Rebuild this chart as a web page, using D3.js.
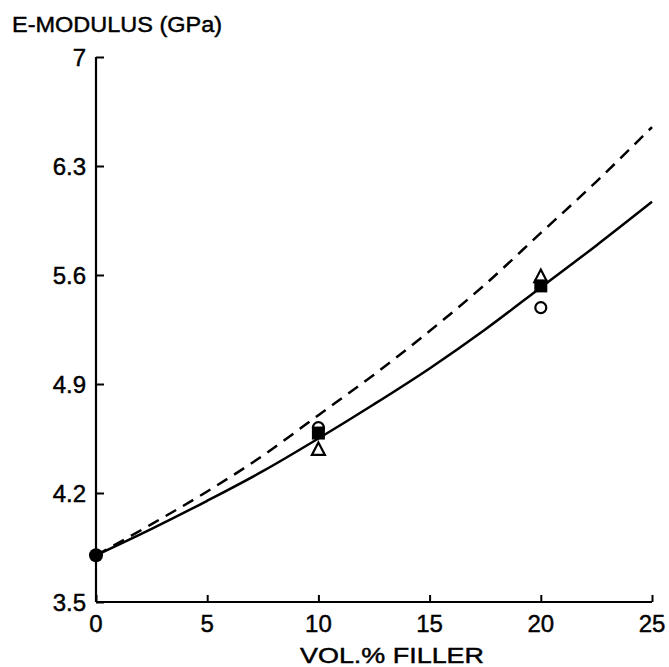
<!DOCTYPE html>
<html><head><meta charset="utf-8">
<script src="https://cdn.jsdelivr.net/npm/d3@7/dist/d3.min.js"></script>
<style>body{margin:0;background:#fff} text{stroke:#000;stroke-width:0.45px}</style>
</head><body>
<svg id="c" width="669" height="667"></svg>
<script>
const xTicks = [0, 5, 10, 15, 20, 25];
const yTicks = [3.5, 4.2, 4.9, 5.6, 6.3, 7];
const curveX = [0, 2.5, 5, 7.5, 10, 12.5, 15, 17.5, 20, 22.5, 25];
const solidY = [3.80, 3.97, 4.15, 4.34, 4.55, 4.77, 5.00, 5.25, 5.52, 5.79, 6.07];
const dashedY = [3.80, 4.00, 4.21, 4.44, 4.70, 4.96, 5.24, 5.54, 5.87, 6.20, 6.55];
const circleX = [10, 20], circleY = [4.62, 5.39];
const squareX = [10, 20], squareY = [4.585, 5.53];
const triangleX = [10, 20], triangleY = [4.48, 5.59];
const zeroX = [0], zeroY = [3.80];

const svg = d3.select("#c");
const font = "'Liberation Sans', Arial, sans-serif";
const x = d3.scaleLinear().domain([0, 25]).range([96, 652]);
const y = d3.scaleLinear().domain([3.5, 7]).range([602, 57]);

// axes
const yAxis = d3.axisRight(y).tickValues(yTicks).tickSize(8).tickFormat("");
const gy = svg.append("g").attr("transform", "translate(96,0)").call(yAxis);
const xAxis = d3.axisTop(x).tickValues(xTicks).tickSize(7).tickFormat("");
const gx = svg.append("g").attr("transform", "translate(0,602)").call(xAxis);
[gy, gx].forEach(g => {
  g.select(".domain").attr("stroke", "#000").attr("stroke-width", 2.2);
  g.selectAll(".tick line").attr("stroke", "#000").attr("stroke-width", 2);
});
gy.select(".domain").attr("d", `M0,${y(7)}V${y(3.5)}`);
gx.select(".domain").attr("d", `M${x(0)},0H${x(25)}`);

// tick labels
svg.append("g").selectAll("text").data(yTicks).join("text")
  .attr("x", 86).attr("y", d => y(d) + 8.5)
  .attr("text-anchor", "end").attr("font-family", font).attr("font-size", 24)
  .text(d => d === 7 ? "7" : d.toFixed(1));
svg.append("g").selectAll("text").data(xTicks).join("text")
  .attr("x", d => x(d)).attr("y", 632)
  .attr("text-anchor", "middle").attr("font-family", font).attr("font-size", 24)
  .text(d => d);

// titles
svg.append("text").attr("x", 12).attr("y", 32).attr("font-family", font)
  .attr("font-size", 22).attr("textLength", 210).attr("lengthAdjust", "spacingAndGlyphs")
  .text("E-MODULUS (GPa)");
svg.append("text").attr("x", 300).attr("y", 663).attr("font-family", font)
  .attr("font-size", 22).attr("textLength", 184).attr("lengthAdjust", "spacingAndGlyphs")
  .text("VOL.% FILLER");

// curves
const line = d3.line().x(d => x(d[0])).y(d => y(d[1])).curve(d3.curveMonotoneX);
svg.append("path").datum(curveX.map((v, i) => [v, dashedY[i]]))
  .attr("d", line).attr("fill", "none").attr("stroke", "#000")
  .attr("stroke-width", 2.5).attr("stroke-dasharray", "12,8");
svg.append("path").datum(curveX.map((v, i) => [v, solidY[i]]))
  .attr("d", line).attr("fill", "none").attr("stroke", "#000").attr("stroke-width", 2.5);

// markers
svg.append("g").selectAll("path").data(triangleX.map((v, i) => [v, triangleY[i]])).join("path")
  .attr("d", d => { const cx = x(d[0]), cy = y(d[1]); return `M${cx},${cy-7}L${cx+6.5},${cy+5.5}L${cx-6.5},${cy+5.5}Z`; })
  .attr("fill", "#fff").attr("stroke", "#000").attr("stroke-width", 2.2);
svg.append("g").selectAll("circle").data(circleX.map((v, i) => [v, circleY[i]])).join("circle")
  .attr("cx", d => x(d[0])).attr("cy", d => y(d[1])).attr("r", 5.5)
  .attr("fill", "#fff").attr("stroke", "#000").attr("stroke-width", 2.2);
svg.append("g").selectAll("rect").data(squareX.map((v, i) => [v, squareY[i]])).join("rect")
  .attr("x", d => x(d[0]) - 6.5).attr("y", d => y(d[1]) - 6.5)
  .attr("width", 13).attr("height", 13).attr("fill", "#000");
svg.append("g").selectAll("circle").data(zeroX.map((v, i) => [v, zeroY[i]])).join("circle")
  .attr("cx", d => x(d[0])).attr("cy", d => y(d[1])).attr("r", 7).attr("fill", "#000");
</script>
</body></html>
